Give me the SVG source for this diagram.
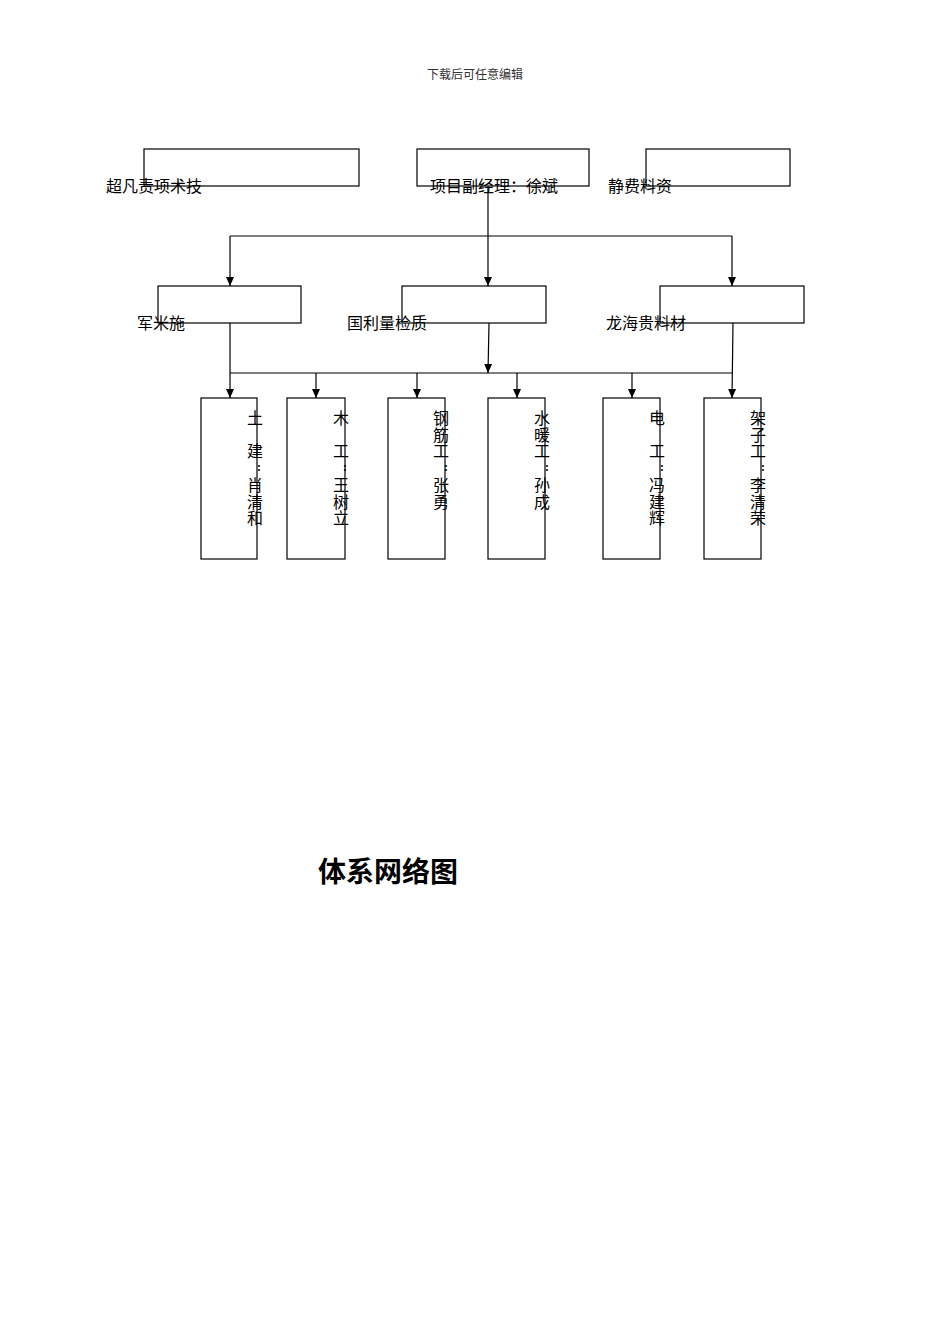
<svg xmlns="http://www.w3.org/2000/svg" width="950" height="1344" viewBox="0 0 950 1344">
<style>
.b{fill:none;stroke:#000;stroke-width:1.2}
.c{fill:none;stroke:#000;stroke-width:1.2}
.t{font-family:"Liberation Serif","Noto Sans CJK SC",serif;font-size:16px;fill:#000}
.v{font-family:"Liberation Serif","Noto Sans CJK SC",serif;font-size:16px;fill:#000;text-anchor:middle}
.k{font-family:"Liberation Serif","Noto Sans CJK SC",serif;font-size:12px;font-weight:bold;fill:#000;text-anchor:middle}
</style>
<defs>
<marker id="a" markerWidth="10" markerHeight="10" refX="9" refY="5" orient="auto" markerUnits="userSpaceOnUse" viewBox="0 0 10 10">
<path d="M0,1 L9,5 L0,9 Z" fill="#000"/>
</marker>
</defs>
<rect width="950" height="1344" fill="#fff"/>
<text x="475" y="79" font-family="Liberation Serif,Noto Sans CJK SC,serif" font-size="12" fill="#333" text-anchor="middle">下载后可任意编辑</text>
<g id="connectors">
<line class="c" x1="488" y1="186" x2="488" y2="236"/>
<line class="c" x1="230" y1="236" x2="732" y2="236"/>
<line class="c" x1="230" y1="236" x2="230" y2="286" marker-end="url(#a)"/>
<line class="c" x1="488" y1="236" x2="488" y2="286" marker-end="url(#a)"/>
<line class="c" x1="732" y1="236" x2="732" y2="286" marker-end="url(#a)"/>
<line class="c" x1="230" y1="323" x2="230" y2="398" marker-end="url(#a)"/>
<line class="c" x1="489" y1="323" x2="488" y2="373" marker-end="url(#a)"/>
<line class="c" x1="733" y1="323" x2="732" y2="398" marker-end="url(#a)"/>
<line class="c" x1="230" y1="373" x2="732" y2="373"/>
<line class="c" x1="316" y1="373" x2="316" y2="398" marker-end="url(#a)"/>
<line class="c" x1="417" y1="373" x2="417" y2="398" marker-end="url(#a)"/>
<line class="c" x1="517" y1="373" x2="517" y2="398" marker-end="url(#a)"/>
<line class="c" x1="632" y1="373" x2="632" y2="398" marker-end="url(#a)"/>
</g>
<g id="n1"><rect class="b" x="144" y="149" width="215" height="37"/><text class="t" x="106" y="192">超凡责项术技</text></g>
<g id="n2"><rect class="b" x="417" y="149" width="172" height="37"/><text class="t" x="430" y="192">项目副经理：徐斌</text></g>
<g id="n3"><rect class="b" x="646" y="149" width="144" height="37"/><text class="t" x="608" y="192">静费料资</text></g>
<g id="n4"><rect class="b" x="158" y="286" width="143" height="37"/><text class="t" x="137" y="329">军米施</text></g>
<g id="n5"><rect class="b" x="402" y="286" width="144" height="37"/><text class="t" x="347" y="329">国利量检质</text></g>
<g id="n6"><rect class="b" x="660" y="286" width="144" height="37"/><text class="t" x="606" y="329">龙海贵料材</text></g>
<g id="w1"><rect class="b" x="201" y="398" width="56" height="161"/>
<text class="v" x="255" y="424">土</text><text class="v" x="255" y="457">建</text><text class="k" x="259" y="471">:</text><text class="v" x="255" y="491">肖</text><text class="v" x="255" y="508">清</text><text class="v" x="255" y="524">和</text></g>
<g id="w2"><rect class="b" x="287" y="398" width="58" height="161"/>
<text class="v" x="341" y="424">木</text><text class="v" x="341" y="457">工</text><text class="k" x="345" y="471">:</text><text class="v" x="341" y="491">王</text><text class="v" x="341" y="508">树</text><text class="v" x="341" y="524">立</text></g>
<g id="w3"><rect class="b" x="388" y="398" width="57" height="161"/>
<text class="v" x="441" y="424">钢</text><text class="v" x="441" y="441">筋</text><text class="v" x="441" y="457">工</text><text class="k" x="446" y="471">:</text><text class="v" x="441" y="491">张</text><text class="v" x="441" y="508">勇</text></g>
<g id="w4"><rect class="b" x="488" y="398" width="57" height="161"/>
<text class="v" x="542" y="424">水</text><text class="v" x="542" y="441">暖</text><text class="v" x="542" y="457">工</text><text class="k" x="547" y="471">:</text><text class="v" x="542" y="491">孙</text><text class="v" x="542" y="508">成</text></g>
<g id="w5"><rect class="b" x="603" y="398" width="57" height="161"/>
<text class="v" x="657" y="424">电</text><text class="v" x="657" y="457">工</text><text class="k" x="662" y="471">:</text><text class="v" x="657" y="491">冯</text><text class="v" x="657" y="508">建</text><text class="v" x="657" y="524">辉</text></g>
<g id="w6"><rect class="b" x="704" y="398" width="57" height="161"/>
<text class="v" x="758" y="424">架</text><text class="v" x="758" y="441">子</text><text class="v" x="758" y="457">工</text><text class="k" x="763" y="471">:</text><text class="v" x="758" y="491">李</text><text class="v" x="758" y="508">清</text><text class="v" x="758" y="524">荣</text></g>
<text x="318" y="882" font-family="Noto Sans CJK SC,sans-serif" font-size="28" font-weight="bold" fill="#000">体系网络图</text>
</svg>
